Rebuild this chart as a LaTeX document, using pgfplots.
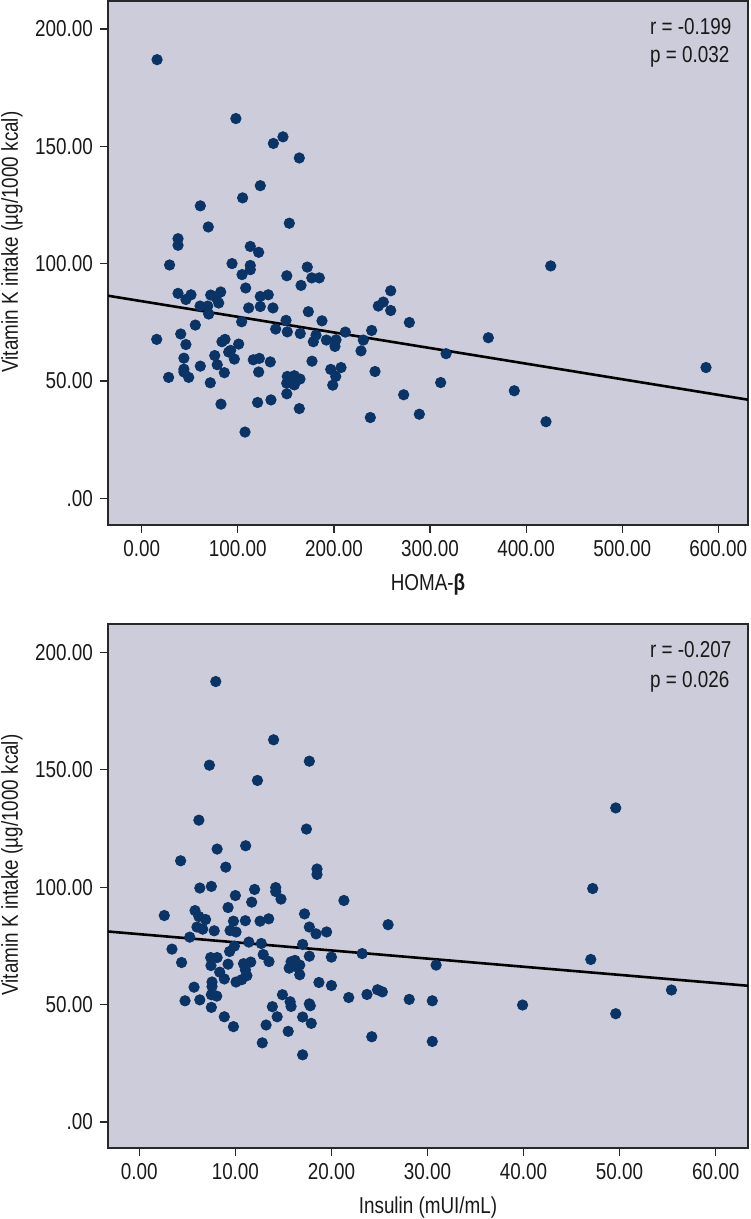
\documentclass[border=0pt]{standalone}
\usepackage{fontspec}
\setmainfont[FakeStretch=0.82]{Liberation Sans}
\usepackage{pgfplots}
\pgfplotsset{compat=1.18}
\definecolor{bgc}{RGB}{204,204,218}
\definecolor{dotc}{RGB}{10,51,102}
\definecolor{axc}{RGB}{40,40,40}

\pgfplotsset{
  vk/.style={
    scale only axis, width=320pt, height=262pt,
    axis background/.style={fill=bgc},
    axis line style={draw=axc, line width=1pt},
    tick align=outside, major tick length=4pt,
    tick style={axc, line width=0.6pt},
    xtick pos=bottom, ytick pos=left,
    ytick={0,50,100,150,200},
    yticklabels={.00,50.00,100.00,150.00,200.00},
    ticklabel style={font=\fontsize{11.5}{13}\selectfont, text=black!90},
    label style={font=\fontsize{11.5}{13}\selectfont, text=black!90},
    ylabel={Vitamin K intake (µg/1000 kcal)},
    ylabel style={at={(axis description cs:-0.15,0.54)}, anchor=center},
    xlabel style={at={(axis description cs:0.5,-0.125)}, anchor=base},
  },
  dots/.style={only marks, mark=*, mark size=2.6pt, mark options={draw=dotc, fill=dotc}},
  fit/.style={black, line width=1.3pt, no marks},
}

\begin{document}
\begin{tikzpicture}
\useasboundingbox (-54pt,-347pt) rectangle (321pt,262.5pt);
% ---------------- top panel ----------------
\begin{axis}[vk,
  xmin=-35.07, xmax=630.9, ymin=-11.4, ymax=211.9,
  xtick={0,100,200,300,400,500,600},
  xticklabels={0.00,100.00,200.00,300.00,400.00,500.00,600.00},
  xlabel={HOMA-\textbf{β}}]
\addplot[dots] coordinates {
(16,186.9) (98,161.8) (147,154) (137,151.2) (164,145) (123.4,133.2) (105,128)
(61,124.6) (69.3,115.6) (37.8,110.6) (37.8,107.8) (153.6,117.2) (113,107.3)
(121.7,104.8) (29,99.4) (94,100) (113,99.2) (113,97.4) (104.4,95.3) (172.3,98.5)
(151,94.8) (177,93.9) (184.8,93.9) (425.6,99) (165.8,90.7) (37.8,87.3) (46,84.7)
(51.3,86.7) (60.7,81.9) (68.7,81.9) (69.7,78.5) (71.8,86.6) (77.3,85.6) (82.2,87.9)
(80.1,83.2) (108.2,89.6) (111.3,81.1) (123.4,86) (131.7,86.7) (123.4,81.7)
(136.6,81.1) (104,75.2) (150.2,75.8) (139.4,72.1) (151.5,70.9) (165,70.2)
(173.4,79.5) (187.6,75.6) (181.4,69.5) (178.6,66.7) (192.2,67.4) (202.2,67.5)
(201.1,64.7) (211.9,70.8) (230.6,67.4) (228.2,62.8) (239.3,71.5) (246.2,81.9)
(251.4,83.6) (259.1,88.4) (259.1,80) (278.5,74.9) (15.6,67.7) (40.6,70) (46,65.5)
(55.8,73.8) (43.9,59.7) (43.9,55) (43.9,53.8) (48.9,51.5) (28,51.5) (61,56.3)
(71.4,49.2) (76,60.8) (78.6,56.9) (86,53.5) (83.5,66.7) (86.7,67.7) (90.5,62.3)
(92.6,63) (96.4,59.3) (100.9,65.7) (82.5,40.1) (107.5,28.2) (116.1,59) (122.4,59.6)
(121.7,53.8) (133.8,58.1) (120.6,40.8) (134.5,41.9) (151.5,51.9) (158.8,52.2)
(164.7,50.8) (150.9,49) (158.8,48.3) (155,50.5) (177.2,58.4) (151,44.5) (164,38.2)
(196.7,54.9) (207.4,55.7) (201.9,51.9) (198.8,48.2) (242.8,54) (272.6,44.1)
(237.9,34.4) (288.9,35.8) (360.7,68.4) (316.7,61.6) (311.1,49.3) (387.7,45.8)
(420.7,32.6) (587.2,55.7)
};
\addplot[fit] coordinates {(-35.07,86.3) (630.9,42.0)};
\node[anchor=west, font=\fontsize{11.5}{13}\selectfont, text=black!90] at (rel axis cs:0.836,0.952) {r = -0.199};
\node[anchor=west, font=\fontsize{11.5}{13}\selectfont, text=black!90] at (rel axis cs:0.836,0.893) {p = 0.032};
\end{axis}
% ---------------- bottom panel ----------------
\begin{axis}[vk, at={(0pt,-311.5pt)},
  xmin=-3.26, xmax=63.37, ymin=-11.06, ymax=212,
  xtick={0,10,20,30,40,50,60},
  xticklabels={0.00,10.00,20.00,30.00,40.00,50.00,60.00},
  xlabel={Insulin (mUI/mL)}]
\addplot[dots] coordinates {
(7.96,187.5) (13.98,162.7) (17.7,153.6) (7.3,151.9) (12.3,145.4) (6.2,128.5)
(17.4,124.7) (8.1,116.2) (11.07,117.6) (4.3,111.2) (9.0,108.5) (18.5,107.7)
(18.5,105.4) (6.3,99.6) (7.5,100.3) (10.0,96.4) (12.0,99) (14.2,99.8) (14.2,98.1)
(14.75,94.9) (11.7,93.6) (21.3,94.3) (49.6,133.7) (47.2,99.4) (2.6,87.9) (5.8,90)
(6.2,87.5) (6.9,86.2) (6.0,83) (6.6,82.1) (7.8,81.4) (9.24,91.3) (9.8,85.5)
(11.04,85.7) (12.57,85.5) (13.47,86.5) (9.45,81.5) (10.07,80.9) (5.25,78.7)
(3.4,73.6) (4.4,67.9) (11.4,76.6) (12.7,76) (9.9,74.9) (9.4,72.6) (12.9,71.3)
(13.5,68.3) (7.43,70) (8.1,70) (7.46,66.6) (9.24,67.2) (8.37,63.8) (8.85,60.9)
(7.57,59.6) (7.57,57.7) (7.5,54.2) (8.06,53.6) (5.7,57.4) (4.76,51.6) (6.3,52)
(7.5,48.8) (8.85,44.8) (9.8,40.6) (10.85,67.4) (11.6,68.1) (11.04,64.8) (11.2,62.3)
(10.66,60.6) (10.07,59.6) (17.0,75.6) (17.2,88.6) (17.7,83) (18.4,80.1) (19.5,80.9)
(17.7,70.6) (20.0,70.2) (15.8,68.2) (16.2,68.8) (16.7,66.8) (15.6,65.5) (16.4,66)
(16.7,62.7) (18.7,59.4) (20.0,58.1) (14.9,54.2) (15.7,51.2) (15.8,49.2) (13.85,49.1)
(14.35,44.8) (13.2,41.3) (12.8,33.7) (15.5,38.6) (17.0,44.7) (17.7,50.3) (17.8,49.5)
(17.9,42) (17.0,28.6) (21.8,53) (23.2,71.7) (23.7,54.3) (24.8,56.3) (25.3,55.4)
(25.9,84) (24.2,36.3) (28.1,52.2) (30.5,51.6) (30.5,34.3) (30.9,66.8) (39.9,49.8)
(47.0,69.2) (49.6,46.1) (55.4,56.2)
};
\addplot[fit] coordinates {(-3.26,81.1) (63.37,58.0)};
\node[anchor=west, font=\fontsize{11.5}{13}\selectfont, text=black!90] at (rel axis cs:0.836,0.952) {r = -0.207};
\node[anchor=west, font=\fontsize{11.5}{13}\selectfont, text=black!90] at (rel axis cs:0.836,0.889) {p = 0.026};
\end{axis}
\end{tikzpicture}
\end{document}
